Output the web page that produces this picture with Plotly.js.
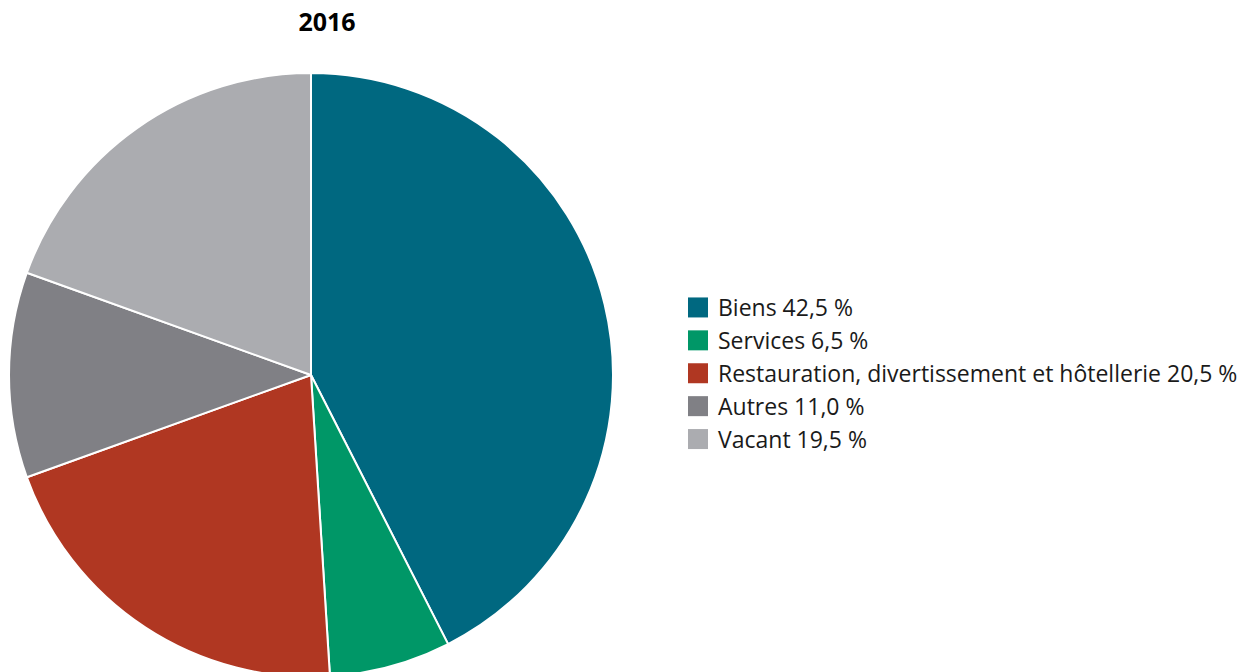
<!DOCTYPE html>
<html>
<head>
<meta charset="utf-8">
<script src="https://cdn.plot.ly/plotly-3.0.1.min.js"></script>
<style>
html,body{margin:0;padding:0;overflow:hidden;background:#fff;width:1246px;height:672px;}
#chart{width:1246px;height:680px;}
</style>
</head>
<body>
<div id="chart"></div>
<script>
const categories = ["Biens", "Services", "Restauration, divertissement et hôtellerie", "Autres", "Vacant"];
const shares = [42.5, 6.5, 20.5, 11.0, 19.5];
const colors = ["#006880", "#009767", "#B03722", "#808085", "#ABACB0"];
const chartTitle = "2016";

const W = 1246, H = 680;
const labels = categories.map((c, i) => c + " " + shares[i].toFixed(1).replace(".", ",") + " %");

const trace = {
  type: "pie",
  labels: labels,
  values: shares,
  sort: false,
  direction: "clockwise",
  rotation: 0,
  textinfo: "none",
  hoverinfo: "label",
  marker: {colors: colors, line: {color: "#ffffff", width: 2}},
  domain: {x: [9 / W, 613 / W], y: [1 - 677 / H, 1 - 73 / H]}
};

const layout = {
  width: W, height: H,
  margin: {l: 0, r: 0, t: 0, b: 0},
  paper_bgcolor: "#ffffff",
  font: {family: "Open Sans, sans-serif", color: "#1a1a1a"},
  title: {
    text: "<b>" + chartTitle + "</b>",
    x: 327 / W, xanchor: "center", xref: "paper",
    y: 1 - 22 / H, yanchor: "middle", yref: "paper",
    font: {size: 25, color: "#000000", family: "Open Sans, sans-serif"}
  },
  showlegend: true,
  legend: {
    x: 678 / W, xanchor: "left",
    y: 1 - 286 / H, yanchor: "top",
    font: {size: 23, color: "#1a1a1a"},
    traceorder: "normal",
    bgcolor: "rgba(0,0,0,0)"
  }
};

Plotly.newPlot("chart", [trace], layout, {displayModeBar: false, staticPlot: true}).then(function (gd) {
  gd.querySelectorAll(".legendpoints path").forEach(function (p) {
    p.setAttribute("d", "M10,10H-10V-10H10Z");
    p.style.strokeWidth = "0";
  });
});
</script>
</body>
</html>
